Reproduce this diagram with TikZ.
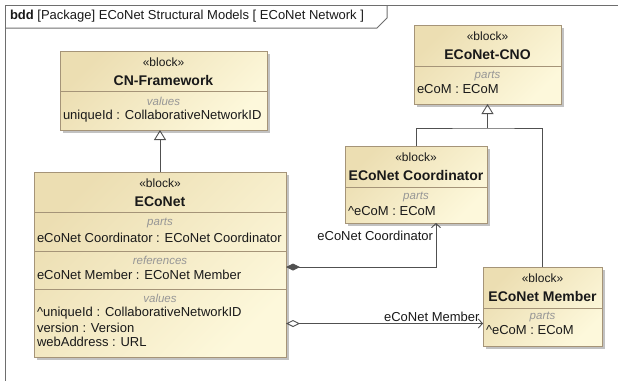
\documentclass[tikz,border=0pt]{standalone}
\usepackage{fontspec}
\setmainfont{Liberation Sans}
\usetikzlibrary{positioning,arrows.meta,shadows}
\definecolor{blocktop}{RGB}{236,222,178}
\definecolor{blockbot}{RGB}{253,248,219}
\definecolor{blockline}{RGB}{165,148,120}
\definecolor{linkcol}{RGB}{80,80,80}
\definecolor{framecol}{RGB}{110,110,110}
\definecolor{txtcol}{RGB}{25,25,25}
\definecolor{compcol}{RGB}{150,150,150}

\begin{document}
\begin{tikzpicture}[x=1pt,y=-1pt,every node/.style={outer sep=0pt,inner sep=1pt,text=txtcol},
 block/.style={draw=blockline,line width=1pt,top color=blocktop,bottom color=blockbot,
 shading angle=45,inner sep=0pt,
 drop shadow={shadow xshift=2.5pt,shadow yshift=-2.5pt,fill=black!40,opacity=0.6}},
 stereo/.style={font=\fontsize{12}{14}\selectfont},
 btitle/.style={font=\fontsize{14}{16}\selectfont\bfseries},
 comp/.style={font=\fontsize{11.5}{13}\selectfont\itshape,text=compcol},
 entry/.style={anchor=west,font=\fontsize{13}{15}\selectfont},
 sep/.style={draw=blockline,line width=1pt},
 link/.style={draw=linkcol,line width=0.9pt},
 gen/.style={link,-{Triangle[open,length=10pt,width=12pt]}},
 compo/.style={link,{Diamond[length=14pt,width=7pt]}-{Straight Barb[length=4pt,width=9pt]}},
 aggr/.style={link,{Diamond[open,length=14pt,width=7pt]}-{Straight Barb[length=4pt,width=9pt]}},
 rolelbl/.style={font=\fontsize{13}{15}\selectfont}]

 \clip (0,0) rectangle (618,380);

 % frame and heading tab
 \draw[framecol,line width=1pt] (5,5) rectangle (700,500);
 \draw[framecol,line width=1pt] (5,28) -- (377,28) -- (387,18) -- (387,5);
 \node[anchor=west,font=\fontsize{13}{15}\selectfont] (hdr) at (9,16.5)
  {\textbf{bdd} [Package] ECoNet Structural Models [ ECoNet Network ]};

 % CN-Framework
 \node[block,minimum width=207pt,minimum height=79pt] (cnf) at (163.5,90.5) {};
 \draw[sep] (cnf.west |- 0,91) -- (cnf.east |- 0,91);
 \node[stereo] (cnfst) at (cnf.north |- 0,62) {«block»};
 \node[btitle] (cnfttl) at (cnf.north |- 0,80) {CN-Framework};
 \node[comp] (cnfval) at (cnf.north |- 0,101.5) {values};
 \node[entry] (cnfid) at (62,116) {uniqueId : CollaborativeNetworkID};

 % ECoNet
 \node[block,minimum width=252pt,minimum height=185pt] (eco) at (160,264.5) {};
 \foreach \Y in {212,251,289}
  \draw[sep] (eco.west |- 0,\Y) -- (eco.east |- 0,\Y);
 \node[stereo] (ecost) at (eco.north |- 0,183) {«block»};
 \node[btitle] (ecottl) at (eco.north |- 0,202) {ECoNet};
 \node[comp] (ecoprt) at (eco.north |- 0,222.5) {parts};
 \node[entry] (ecocrd) at (36,237.5) {eCoNet Coordinator : ECoNet Coordinator};
 \node[comp] (ecoref) at (eco.north |- 0,260.5) {references};
 \node[entry] (ecomem) at (36,274.5) {eCoNet Member : ECoNet Member};
 \node[comp] (ecoval) at (eco.north |- 0,298) {values};
 \node[entry] (ecoid) at (36,313) {\textasciicircum uniqueId : CollaborativeNetworkID};
 \node[entry] (ecover) at (36,327.5) {version : Version};
 \node[entry] (ecoweb) at (36,342) {webAddress : URL};

 % ECoNet-CNO
 \node[block,minimum width=147pt,minimum height=79pt] (cno) at (487.5,64.5) {};
 \draw[sep] (cno.west |- 0,66) -- (cno.east |- 0,66);
 \node[stereo] (cnost) at (cno.north |- 0,36) {«block»};
 \node[btitle] (cnottl) at (cno.north |- 0,54.5) {ECoNet-CNO};
 \node[comp] (cnoprt) at (cno.north |- 0,75.5) {parts};
 \node[entry] (cnocom) at (416,89.5) {eCoM : ECoM};

 % ECoNet Coordinator
 \node[block,minimum width=142pt,minimum height=77pt] (crd) at (416,184.5) {};
 \draw[sep] (crd.west |- 0,187) -- (crd.east |- 0,187);
 \node[stereo] (crdst) at (crd.north |- 0,157) {«block»};
 \node[btitle] (crdttl) at (crd.north |- 0,175.5) {ECoNet Coordinator};
 \node[comp] (crdprt) at (crd.north |- 0,196.5) {parts};
 \node[entry] (crdcom) at (347,211) {\textasciicircum eCoM : ECoM};

 % ECoNet Member
 \node[block,minimum width=119pt,minimum height=79pt] (mem) at (542.5,306.5) {};
 \draw[sep] (mem.west |- 0,308) -- (mem.east |- 0,308);
 \node[stereo] (memst) at (mem.north |- 0,278) {«block»};
 \node[btitle] (memttl) at (mem.north |- 0,296.5) {ECoNet Member};
 \node[comp] (memprt) at (mem.north |- 0,317) {parts};
 \node[entry] (memcom) at (485,330.5) {\textasciicircum eCoM : ECoM};

 % generalizations
 \draw[gen] (eco.north) -- (eco.north |- cnf.south);
 \coordinate (genjoin) at (cno.south |- 0,128);
 \draw[link] (crd.north) |- (genjoin) -| (mem.north);
 \draw[gen] (genjoin) -- (cno.south);

 % part and reference
 \draw[compo] (eco.east |- 0,267) -| ([xshift=20pt]crd.south)
  node[rolelbl,pos=0.85,left=2pt] (crdrole) {eCoNet Coordinator};
 \draw[aggr] (eco.east |- 0,323.5) -- (mem.west |- 0,323.5)
  node[rolelbl,pos=0.74,above=1pt] (memrole) {eCoNet Member};

\end{tikzpicture}
\end{document}
